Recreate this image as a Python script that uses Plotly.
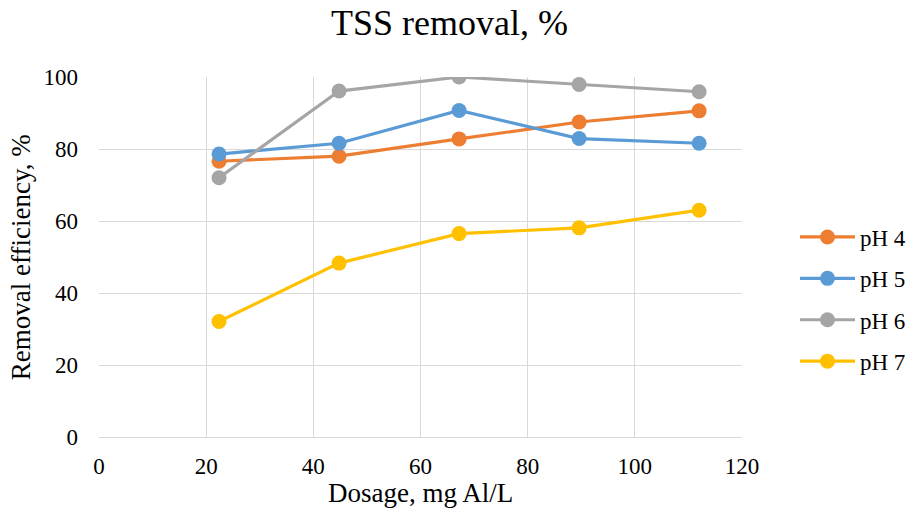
import plotly.graph_objects as go

# Coagulant dosage (mg Al/L) and TSS removal efficiency (%) per pH
dosage = [22.4, 44.8, 67.2, 89.6, 112.0]
ph4 = [76.6, 78.0, 82.8, 87.5, 90.6]
ph5 = [78.6, 81.6, 90.7, 82.9, 81.6]
ph6 = [72.0, 96.1, 100.0, 97.9, 95.9]
ph7 = [32.1, 48.3, 56.5, 58.1, 63.0]

series = [
    ("pH 4", ph4, "#ED7D31"),
    ("pH 5", ph5, "#5B9BD5"),
    ("pH 6", ph6, "#A5A5A5"),
    ("pH 7", ph7, "#FFC000"),
]

serif = "Liberation Serif"

fig = go.Figure()
for i, (name, values, color) in enumerate(series):
    fig.add_trace(go.Scatter(
        x=dosage, y=values, name=name, mode="lines+markers",
        line=dict(color=color, width=3.2),
        marker=dict(color=color, size=15),
        legendgroup=f"g{i}",
    ))

# Axis titles placed as paper annotations for exact positioning
fig.add_annotation(text="Dosage, mg Al/L", xref="paper", yref="paper",
                   x=0.5, y=-0.155, xanchor="center", yanchor="middle",
                   showarrow=False,
                   font=dict(size=27, family=serif, color="black"))
fig.add_annotation(text="Removal efficiency, %", xref="paper", yref="paper",
                   x=-0.121, y=0.5, xanchor="center", yanchor="middle",
                   textangle=-90, showarrow=False,
                   font=dict(size=27, family=serif, color="black"))

fig.update_layout(
    width=910, height=520,
    margin=dict(l=99, r=168, t=77, b=83),
    paper_bgcolor="white", plot_bgcolor="white",
    font=dict(family=serif, size=23, color="black"),
    title=dict(text="TSS removal, %", x=0.494, xanchor="center",
               y=0.956, yanchor="middle",
               font=dict(size=36, family=serif, color="black")),
    xaxis=dict(
        range=[0, 120], dtick=20, showgrid=True, gridcolor="#D9D9D9",
        gridwidth=1, zeroline=False, showline=True, linecolor="#D9D9D9",
        ticks="", ticklabelstandoff=8, automargin=False,
        tickfont=dict(size=23, family=serif, color="black"),
    ),
    yaxis=dict(
        range=[0, 100], dtick=20, showgrid=True, gridcolor="#D9D9D9",
        gridwidth=1, zeroline=False, showline=False,
        ticks="", ticklabelstandoff=20, automargin=False,
        tickfont=dict(size=23, family=serif, color="black"),
    ),
    legend=dict(
        xref="container", yref="container",
        x=795 / 910, xanchor="left", y=1 - 299.5 / 520, yanchor="middle",
        font=dict(size=23, family=serif, color="black"),
        tracegroupgap=8.5, itemwidth=55, bgcolor="rgba(0,0,0,0)",
    ),
)

fig.write_html("out.html")
